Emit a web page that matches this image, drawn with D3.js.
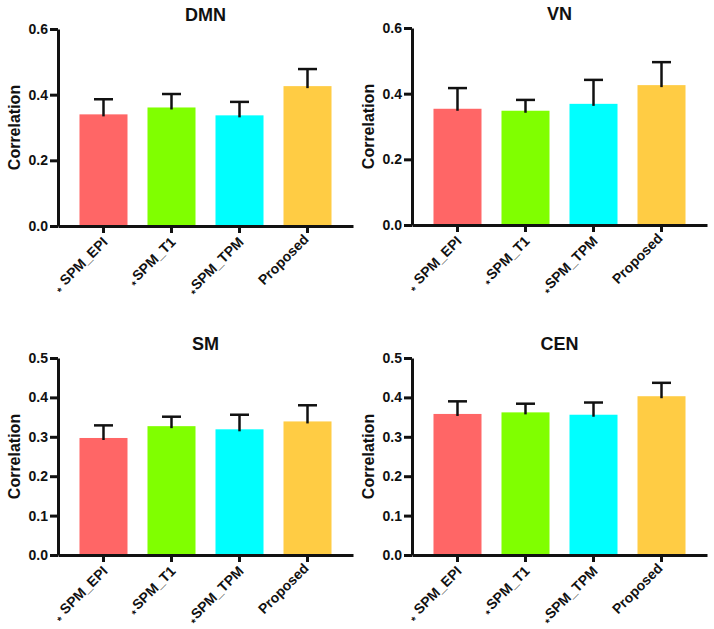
<!DOCTYPE html>
<html>
<head>
<meta charset="utf-8">
<script src="https://cdn.jsdelivr.net/npm/d3@7"></script>
<style>
  body { margin: 0; background: #fff; }
  text { font-family: Arial, "Liberation Sans", sans-serif; font-weight: bold; fill: #111; }
</style>
</head>
<body>
<div id="plot"></div>
<script>
// data
let categories = ["SPM_EPI", "SPM_T1", "SPM_TPM", "Proposed"];
let starMarks = ["*", "*", "*", ""];
let starGap = [5, 2, 1, 0];
let barColors = ["#ff6666", "#80ff00", "#00ffff", "#ffcc44"];

let panelTitles = ["DMN", "VN", "SM", "CEN"];
let dmnMean = [0.340, 0.361, 0.337, 0.426];
let dmnErr  = [0.046, 0.041, 0.041, 0.052];
let vnMean  = [0.354, 0.348, 0.369, 0.426];
let vnErr   = [0.063, 0.033, 0.073, 0.070];
let smMean  = [0.297, 0.327, 0.319, 0.339];
let smErr   = [0.032, 0.024, 0.037, 0.041];
let cenMean = [0.358, 0.362, 0.356, 0.403];
let cenErr  = [0.032, 0.022, 0.031, 0.034];

let ticksTop = [0, 0.2, 0.4, 0.6];
let ticksBottom = [0, 0.1, 0.2, 0.3, 0.4, 0.5];

let svgWidth = 714;
let svgHeight = 629;
let plotW = 295;
let plotH = 197;

let panels = [
    { title: panelTitles[0], mean: dmnMean, err: dmnErr, ticks: ticksTop, x: 58, y: 29 },
    { title: panelTitles[1], mean: vnMean, err: vnErr, ticks: ticksTop, x: 412, y: 28 },
    { title: panelTitles[2], mean: smMean, err: smErr, ticks: ticksBottom, x: 58, y: 358 },
    { title: panelTitles[3], mean: cenMean, err: cenErr, ticks: ticksBottom, x: 412, y: 358 }
];

let svg = d3.select('#plot')
            .append('svg')
                .attr('width', svgWidth)
                .attr('height', svgHeight);

panels.forEach(function(p){
    let g = svg.append('g')
               .attr('transform', `translate(${p.x},${p.y})`);

    let x = d3.scaleBand()
              .domain(categories)
              .range([0, plotW])
              .paddingInner(0.294)
              .paddingOuter(0.316);

    let y = d3.scaleLinear()
              .domain([0, d3.max(p.ticks)])
              .range([plotH, 0]);

    let rows = categories.map((c, i) => ({ cat: c, mean: p.mean[i], err: p.err[i], color: barColors[i], star: starMarks[i], gap: starGap[i] }));

    // bars
    g.selectAll('rect.bar')
        .data(rows)
        .enter()
            .append('rect')
            .attr('class', 'bar')
            .attr('x', d => x(d.cat))
            .attr('width', x.bandwidth())
            .attr('y', d => y(d.mean))
            .attr('height', d => plotH - y(d.mean))
            .attr('fill', d => d.color);

    // error bars (upper only)
    let eb = g.selectAll('g.err')
        .data(rows)
        .enter()
            .append('g')
            .attr('class', 'err')
            .attr('stroke', '#111')
            .attr('stroke-width', 2.5);
    eb.append('line')
        .attr('x1', d => x(d.cat) + x.bandwidth() / 2)
        .attr('x2', d => x(d.cat) + x.bandwidth() / 2)
        .attr('y1', d => y(d.mean) + 2)
        .attr('y2', d => y(d.mean + d.err));
    eb.append('line')
        .attr('x1', d => x(d.cat) + x.bandwidth() / 2 - 9.5)
        .attr('x2', d => x(d.cat) + x.bandwidth() / 2 + 9.5)
        .attr('y1', d => y(d.mean + d.err))
        .attr('y2', d => y(d.mean + d.err));

    // axes
    let yAxis = g.append('g')
        .call(d3.axisLeft(y).tickValues(p.ticks).tickFormat(d3.format('.1f')).tickSize(8).tickSizeOuter(0).tickPadding(2));
    let xAxis = g.append('g')
        .attr('transform', `translate(0,${plotH})`)
        .call(d3.axisBottom(x).tickSize(7).tickSizeOuter(0).tickFormat(''));

    [yAxis, xAxis].forEach(function(a){
        a.select('.domain').attr('stroke', '#111').attr('stroke-width', 3);
        a.selectAll('.tick line').attr('stroke', '#111').attr('stroke-width', 3);
    });
    yAxis.selectAll('.tick text')
        .style('font-size', '14px')
        .attr('fill', '#111');

    // rotated category labels
    let lab = g.selectAll('text.cat')
        .data(rows)
        .enter()
            .append('text')
            .attr('class', 'cat')
            .attr('text-anchor', 'end')
            .style('font-size', '14px')
            .attr('transform', d => `translate(${x(d.cat) + x.bandwidth() / 2 + 5},${plotH + 17}) rotate(-45)`);
    lab.append('tspan')
        .style('font-size', '11px')
        .attr('dy', 4)
        .text(d => d.star);
    lab.append('tspan')
        .attr('dy', -4)
        .attr('dx', d => d.gap)
        .text(d => d.cat);

    // title
    g.append('text')
        .attr('x', plotW / 2)
        .attr('y', -8)
        .attr('text-anchor', 'middle')
        .style('font-size', '18px')
        .text(p.title);

    // y label
    g.append('text')
        .attr('transform', `translate(-38,${plotH / 2}) rotate(-90)`)
        .attr('text-anchor', 'middle')
        .style('font-size', '16px')
        .text('Correlation');
});
</script>
</body>
</html>
